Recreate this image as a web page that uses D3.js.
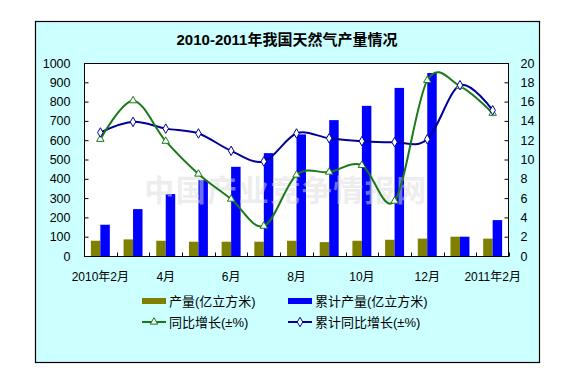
<!DOCTYPE html>
<html><head><meta charset="utf-8">
<script src="https://cdn.jsdelivr.net/npm/d3@7/dist/d3.min.js"></script>
<style>
body{margin:0;background:#fff;}
svg{display:block;font-family:Arial,"Liberation Sans","Noto Sans CJK SC",sans-serif;}
</style></head>
<body><svg id="c" width="573" height="380"></svg>
<script>
const categories = ["2010年2月","3月","4月","5月","6月","7月","8月","9月","10月","11月","12月","2011年1月","2011年2月"];
const tickLabels = ["2010年2月","","4月","","6月","","8月","","10月","","12月","","2011年2月"];
const output = [79, 86, 79, 74, 74, 74, 79, 72, 79, 84, 90, 100, 90];
const cumulative = [162, 243, 321, 393, 462, 533, 630, 704, 778, 871, 948, 100, 186];
const yoy = [12.1, 16.1, 11.9, 8.5, 5.9, 3.1, 8.4, 8.7, 9.4, 5.7, 18.2, 17.6, 14.8];
const cumYoy = [12.8, 13.9, 13.2, 12.7, 10.9, 9.8, 12.7, 12.2, 11.9, 11.8, 12.1, 17.7, 15.1];
const leftTicks = [0,100,200,300,400,500,600,700,800,900,1000];
const rightTicks = [0,2,4,6,8,10,12,14,16,18,20];
const title = "2010-2011年我国天然气产量情况";
const seriesNames = ["产量(亿立方米)","累计产量(亿立方米)","同比增长(±%)","累计同比增长(±%)"];
const watermark = "中国产业竞争情报网";

const svg = d3.select("#c");
const P = {l:84, r:509, t:63, b:256};

// outer frame
svg.append("rect").attr("x",35.5).attr("y",21.5).attr("width",504).attr("height",341)
  .attr("fill","#ccffff").attr("stroke","#000").attr("stroke-width",1.2);

svg.append("text").attr("x",287).attr("y",45).attr("text-anchor","middle")
  .attr("font-size",15).attr("font-weight","bold").attr("fill","#000").text(title);

// plot bg
svg.append("rect").attr("x",P.l).attr("y",P.t).attr("width",P.r-P.l).attr("height",P.b-P.t)
  .attr("fill","#fff");

const x = d3.scaleBand().domain(categories).range([P.l,P.r]).paddingInner(0).paddingOuter(0);
const yL = d3.scaleLinear().domain([0,1000]).range([P.b,P.t]);
const yR = d3.scaleLinear().domain([0,20]).range([P.b,P.t]);
const bw = x.bandwidth()*0.29;

// bars
const g = svg.append("g");
g.selectAll(".b1").data(output).join("rect")
  .attr("x",(d,i)=>x(categories[i])+x.bandwidth()/2-bw).attr("width",bw)
  .attr("y",d=>yL(d)).attr("height",d=>P.b-yL(d)).attr("fill","#808000");
g.selectAll(".b2").data(cumulative).join("rect")
  .attr("x",(d,i)=>x(categories[i])+x.bandwidth()/2).attr("width",bw)
  .attr("y",d=>yL(d)).attr("height",d=>P.b-yL(d)).attr("fill","#0000ff");

// watermark
svg.append("text").attr("x",286).attr("y",201).attr("text-anchor","middle")
  .attr("font-size",30).attr("font-weight","bold").attr("letter-spacing",1.5)
  .attr("font-family","'Noto Sans CJK SC',sans-serif")
  .attr("fill","#dcdcdc").attr("fill-opacity",0.5).text(watermark);

// lines
const cx = i => x(categories[i])+x.bandwidth()/2;
const line = d3.line().x((d,i)=>cx(i)).y(d=>yR(d)).curve(d3.curveCatmullRom.alpha(0));
svg.append("path").attr("d",line(cumYoy)).attr("fill","none").attr("stroke","#000099").attr("stroke-width",2);
svg.append("path").attr("d",line(yoy)).attr("fill","none").attr("stroke","#1a7a1a").attr("stroke-width",2);

const tri = d3.symbol().type(d3.symbolTriangle).size(24);
const dia = d3.symbol().type(d3.symbolDiamond).size(26);
svg.selectAll(".m1").data(yoy).join("path").attr("d",tri)
  .attr("transform",(d,i)=>`translate(${cx(i)},${yR(d)})`)
  .attr("fill","#fff").attr("stroke","#1a7a1a").attr("stroke-width",1);
svg.selectAll(".m2").data(cumYoy).join("path").attr("d",dia)
  .attr("transform",(d,i)=>`translate(${cx(i)},${yR(d)})`)
  .attr("fill","#fff").attr("stroke","#000099").attr("stroke-width",1);

// plot border
svg.append("rect").attr("x",P.l+0.5).attr("y",P.t+0.5).attr("width",P.r-P.l-1).attr("height",P.b-P.t)
  .attr("fill","none").attr("stroke","#000").attr("stroke-width",1);

// axes
const axL = d3.axisLeft(yL).tickValues(leftTicks).tickFormat(d3.format("d")).tickSize(-4).tickPadding(14);
const gL = svg.append("g").attr("transform",`translate(${P.l+0.5},0)`).call(axL);
const axR = d3.axisRight(yR).tickValues(rightTicks).tickFormat(d3.format("d")).tickSize(-4).tickPadding(12);
const gR = svg.append("g").attr("transform",`translate(${P.r-0.5},0)`).call(axR);
[gL,gR].forEach(a=>{
  a.select(".domain").remove();
  a.selectAll("line").attr("stroke","#000");
  a.selectAll("text").attr("font-size",12.5).attr("fill","#000").attr("font-family","Arial,'Liberation Sans',sans-serif");
});

// x axis
const gX = svg.append("g").attr("transform",`translate(0,${P.b+0.5})`);
gX.selectAll("line").data(d3.range(categories.length+1)).join("line")
  .attr("x1",i=>Math.round(P.l+i*x.bandwidth())+0.5).attr("x2",i=>Math.round(P.l+i*x.bandwidth())+0.5)
  .attr("y1",0).attr("y2",-4).attr("stroke","#000");
gX.selectAll("text").data(tickLabels).join("text")
  .attr("x",(d,i)=>cx(i)).attr("y",24).attr("text-anchor","middle")
  .attr("font-size",12).attr("fill","#000").text(d=>d);

// legend
const lg = svg.append("g").attr("font-size",13).attr("fill","#000");
const items = [
  {x:142,y:301,type:"bar",color:"#808000",name:seriesNames[0]},
  {x:288,y:301,type:"bar",color:"#0000ff",name:seriesNames[1]},
  {x:142,y:322,type:"line",color:"#1a7a1a",sym:tri,name:seriesNames[2]},
  {x:288,y:322,type:"line",color:"#000099",sym:dia,name:seriesNames[3]}
];
items.forEach(it=>{
  if(it.type==="bar"){
    lg.append("rect").attr("x",it.x).attr("y",it.y-3).attr("width",24).attr("height",6).attr("fill",it.color);
  } else {
    lg.append("line").attr("x1",it.x).attr("x2",it.x+24).attr("y1",it.y).attr("y2",it.y)
      .attr("stroke",it.color).attr("stroke-width",2);
    lg.append("path").attr("d",it.sym).attr("transform",`translate(${it.x+12},${it.y})`)
      .attr("fill","#fff").attr("stroke",it.color).attr("stroke-width",1);
  }
  lg.append("text").attr("x",it.x+27).attr("y",it.y+4.5).text(it.name);
});
</script></body></html>
